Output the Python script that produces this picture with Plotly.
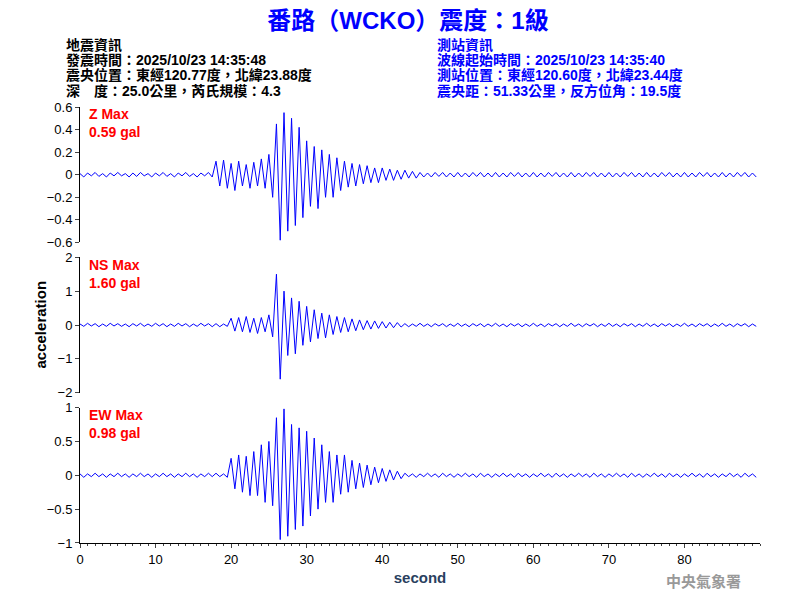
import plotly.graph_objects as go
from plotly.subplots import make_subplots

# samples every 0.5 s, 0 .. 89.5 s
step = 0.5
z_pre = [0.01, -0.02, 0.015, -0.01, 0.02, -0.015, 0.01, -0.02, 0.015, -0.01, 0.02, -0.01,
         0.01, -0.02, 0.015, -0.015, 0.02, -0.01, 0.01, -0.02, 0.015, -0.01, 0.02, -0.015,
         0.01, -0.02, 0.015, -0.01, 0.02, -0.015, 0.01, -0.02, 0.015, -0.01, 0.02, -0.02]
z_mid = [0.12, -0.1, 0.13, -0.12, 0.1, -0.14, 0.12, -0.1, 0.09, -0.12, 0.11, -0.1, 0.14, -0.12,
         0.18, -0.2]
z_main = [0.45, -0.58, 0.55, -0.5, 0.5, -0.45, 0.42, -0.38,
          0.3, -0.28, 0.25, -0.3, 0.22, -0.2, 0.18, -0.2, 0.15, -0.14,
          0.12, -0.11, 0.1, -0.1, 0.09, -0.08, 0.08, -0.07, 0.06, -0.07, 0.06, -0.05,
          0.05, -0.05, 0.04, -0.04, 0.04, -0.03, 0.03, -0.03]
z_post = [0.02, -0.02, 0.015, -0.02, 0.02, -0.015, 0.02, -0.02, 0.015, -0.02] * 9

n_pre = [0.03, -0.04, 0.05, -0.03, 0.04, -0.05, 0.03, -0.04, 0.05, -0.03, 0.04, -0.04,
         0.03, -0.05, 0.04, -0.03, 0.05, -0.04, 0.03, -0.04, 0.05, -0.03, 0.04, -0.05,
         0.03, -0.04, 0.05, -0.03, 0.04, -0.05, 0.03, -0.04, 0.05, -0.03, 0.04, -0.05,
         0.04, -0.05, 0.03, -0.04]
n_mid = [0.2, -0.18, 0.22, -0.2, 0.25, -0.22, 0.2, -0.25, 0.22, -0.2, 0.3, -0.35]
n_main = [1.5, -1.6, 1.0, -0.9, 0.8, -0.85, 0.7, -0.6,
          0.55, -0.5, 0.45, -0.4, 0.35, -0.38, 0.3, -0.28, 0.25, -0.22,
          0.22, -0.2, 0.18, -0.17, 0.15, -0.14, 0.13, -0.12, 0.12, -0.1, 0.1, -0.09,
          0.08, -0.08, 0.07, -0.06]
n_post = [0.04, -0.05, 0.03, -0.04, 0.05, -0.04, 0.03, -0.05, 0.04, -0.03] * 9 + \
         [0.04, -0.05, 0.03, -0.04]

e_pre = [0.02, -0.03, 0.02, -0.02, 0.03, -0.02, 0.02, -0.03, 0.02, -0.02, 0.03, -0.02,
         0.02, -0.03, 0.02, -0.02, 0.03, -0.02, 0.02, -0.03, 0.02, -0.02, 0.03, -0.02,
         0.02, -0.03, 0.02, -0.02, 0.03, -0.02, 0.02, -0.03, 0.02, -0.02, 0.03, -0.02,
         0.03, -0.02, 0.02, -0.03]
e_mid = [0.25, -0.2, 0.3, -0.25, 0.28, -0.3, 0.35, -0.3, 0.45, -0.4, 0.5, -0.45]
e_main = [0.85, -0.95, 0.98, -0.9, 0.75, -0.8, 0.7, -0.75,
          0.65, -0.6, 0.55, -0.5, 0.45, -0.4, 0.35, -0.4, 0.3, -0.28,
          0.3, -0.25, 0.22, -0.2, 0.18, -0.18, 0.15, -0.14, 0.12, -0.11, 0.1, -0.09,
          0.08, -0.07, 0.06, -0.05]
e_post = [0.03, -0.02, 0.02, -0.03, 0.02, -0.02, 0.03, -0.02, 0.02, -0.03] * 9 + \
         [0.03, -0.02, 0.02, -0.03]

z_vals = z_pre + z_mid + z_main + z_post
ns_vals = n_pre + n_mid + n_main + n_post
ew_vals = e_pre + e_mid + e_main + e_post

channels = ["Z", "NS", "EW"]
max_labels = ["0.59 gal", "1.60 gal", "0.98 gal"]
y_ranges = [[-0.6, 0.6], [-2, 2], [-1, 1]]
y_ticks = [[-0.6, -0.4, -0.2, 0, 0.2, 0.4, 0.6], [-2, -1, 0, 1, 2], [-1, -0.5, 0, 0.5, 1]]

header_left = ["地震資訊", "發震時間：2025/10/23 14:35:48",
               "震央位置：東經120.77度，北緯23.88度", "深　度：25.0公里，芮氏規模：4.3"]
header_right = ["測站資訊", "波線起始時間：2025/10/23 14:35:40",
                "測站位置：東經120.60度，北緯23.44度", "震央距：51.33公里，反方位角：19.5度"]

fig = make_subplots(rows=3, cols=1, shared_xaxes=True, vertical_spacing=0.034)
font = "Liberation Sans, Noto Sans CJK TC"

for i, vals in enumerate([z_vals, ns_vals, ew_vals]):
    t = [k * step for k in range(len(vals))]
    fig.add_trace(go.Scatter(x=t, y=vals, mode="lines", line=dict(color="blue", width=1),
                             showlegend=False), row=i + 1, col=1)
    fig.update_yaxes(range=y_ranges[i], tickvals=y_ticks[i], showline=True, linecolor="black",
                     ticks="outside", ticklen=4, showgrid=False, zeroline=False,
                     tickfont=dict(size=13, color="black", family=font), row=i + 1, col=1)
    fig.add_annotation(text=f"<b>{channels[i]} Max<br>{max_labels[i]}</b>",
                       xref=f"x{i+1 if i else ''} domain",
                       yref=f"y{i+1 if i else ''} domain", x=0.01, y=1.02, xanchor="left", yanchor="top",
                       showarrow=False, align="left", font=dict(size=14, color="red", family=font))

for r in (1, 2):
    fig.update_xaxes(showline=False, showticklabels=False, ticks="", showgrid=False, row=r, col=1)
fig.update_xaxes(range=[0, 90], tickvals=list(range(0, 90, 10)), showline=True, linecolor="black",
                 ticks="outside", ticklen=4, showgrid=False, zeroline=False,
                 minor=dict(dtick=1, ticks="outside", ticklen=2),
                 tickfont=dict(size=13, color="black", family=font),
                 title=dict(text="<b>second</b>", font=dict(size=15, family=font), standoff=6),
                 row=3, col=1)

fig.update_layout(
    width=800, height=600, plot_bgcolor="white", paper_bgcolor="white",
    margin=dict(l=72, r=48, t=99, b=65, autoexpand=False),
    title=dict(text="<b>番路（WCKO）震度：1級</b>", x=0.5, y=0.993, yanchor="top",
               font=dict(size=24, color="blue", family=font)),
)
# header lines, centres in px from figure top
for k, cy in enumerate([37, 52, 67, 83]):
    yk = 1 + (99 - cy) / 436
    fig.add_annotation(text="<b>" + header_left[k] + "</b>", xref="paper", yref="paper", x=-0.024, y=yk,
                       xanchor="left", yanchor="middle", showarrow=False,
                       font=dict(size=14, color="black", family=font))
    fig.add_annotation(text="<b>" + header_right[k] + "</b>", xref="paper", yref="paper", x=0.522, y=yk,
                       xanchor="left", yanchor="middle", showarrow=False,
                       font=dict(size=14, color="blue", family=font))
fig.add_annotation(text="<b>acceleration</b>", xref="paper", yref="paper", x=-0.075, y=0.5,
                   textangle=-90, showarrow=False, font=dict(size=15, color="black", family=font))
fig.add_annotation(text="<b>中央氣象署</b>", xref="paper", yref="paper", x=0.975, y=-0.115,
                   showarrow=False, font=dict(size=15, color="#999999", family="Noto Sans CJK TC"))

fig.write_html("out.html")
